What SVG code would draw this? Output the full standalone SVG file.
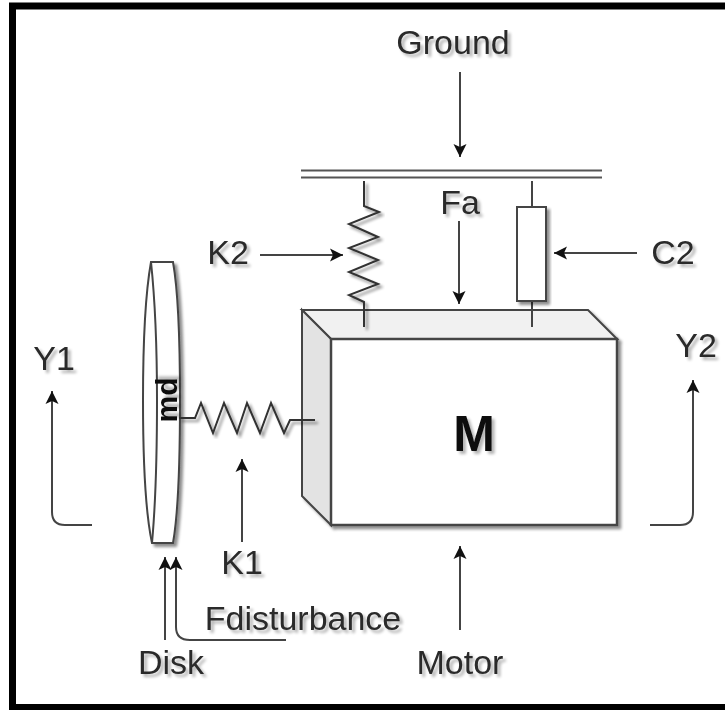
<svg xmlns="http://www.w3.org/2000/svg" width="725" height="710" viewBox="0 0 725 710">
<style>
text{font-family:"Liberation Sans",Arial,sans-serif;font-size:34px;fill:#2a2a2a;filter:url(#ts)}
.l{fill:none;stroke:#444;stroke-width:2}
.k{fill:none;stroke:#333;stroke-width:2}
.s{filter:url(#sh)}
.ar{fill:none;stroke:#444;stroke-width:2;marker-end:url(#a)}
</style>
<defs>
<filter id="sh" x="-20%" y="-20%" width="140%" height="140%"><feGaussianBlur in="SourceAlpha" stdDeviation="1.500"/><feOffset dx="3" dy="3"/><feComponentTransfer><feFuncA type="linear" slope="0.45"/></feComponentTransfer><feMerge><feMergeNode/><feMergeNode in="SourceGraphic"/></feMerge></filter>
<filter id="ts" x="-20%" y="-30%" width="140%" height="160%"><feGaussianBlur in="SourceAlpha" stdDeviation="1.500"/><feOffset dx="3" dy="3"/><feComponentTransfer><feFuncA type="linear" slope="0.3"/></feComponentTransfer><feMerge><feMergeNode/><feMergeNode in="SourceGraphic"/></feMerge></filter>
<marker id="a" markerUnits="userSpaceOnUse" markerWidth="14" markerHeight="14" refX="13" refY="7" orient="auto" viewBox="0 0 14 14"><path d="M0 0.500L13 7L0 13.500L3 7Z" fill="#111"/></marker>
</defs>
<rect x="0" y="0" width="725" height="710" fill="#fff"/>
<rect id="frame" x="12.500" y="6" width="730" height="701.500" fill="none" stroke="#000" stroke-width="7"/>
<g id="ground"><path d="M301 170.500H602M301 177.500H602" fill="none" stroke="#555" stroke-width="2"/></g>
<g id="motor-block" class="s">
<path d="M302 310H588L617 339H331Z" fill="#f1f1f1" stroke="#444" stroke-width="2"/>
<path d="M302 310L331 339V525L302 496Z" fill="#e3e3e3" stroke="#444" stroke-width="2"/>
<rect x="331" y="339" width="286" height="186" fill="#fff" stroke="#444" stroke-width="2.500"/>
<text x="474" y="451" text-anchor="middle" style="font-size:50px;font-weight:bold;fill:#111">M</text>
</g>
<g id="disk" class="s">
<path d="M151 262H173C178 290 180 330 180 400S178 515 173 543H152C146 515 143 470 143 400S146 290 151 262Z" fill="#fff" stroke="#444" stroke-width="2"/>
<path d="M151 262C155 300 157 350 157 400S155 510 152 543" fill="none" stroke="#444" stroke-width="2"/>
<text transform="translate(177 400) rotate(-90)" text-anchor="middle" style="font-size:30px;font-weight:bold;fill:#111">md</text>
</g>
<g id="spring-k1" class="s"><path class="k" d="M179 418H195L201 403L213 433L224 403L237 433L247 403L260 433L271 403L284 433L290 420H315"/></g>
<g id="spring-k2" class="s"><path class="k" d="M364 181V206L379 212L349 224L378 237L349 248L378 260L349 272L378 284L349 295L364 302V327"/></g>
<g id="damper-c2"><path class="l" d="M532 181V207M532 301V327"/><rect class="s" x="517" y="207" width="29" height="94" fill="#fff" stroke="#444" stroke-width="2"/></g>
<g id="connectors">
<path class="ar" d="M460 72V157"/>
<path class="ar" d="M459 221V304"/>
<path class="ar" d="M260 255H343"/>
<path class="ar" d="M637 253H554"/>
<path class="ar" d="M242 542V459"/>
<path class="ar" d="M460 630V546"/>
<path class="ar" d="M165 640V557"/>
<path class="ar" d="M286 640H190Q176 640 176 627V557"/>
<path class="ar" d="M92 525H65Q52 525 52 512V391"/>
<path class="ar" d="M650 525H680Q693 525 693 512V380"/>
</g>
<g id="labels">
<text x="453" y="54" text-anchor="middle">Ground</text>
<text x="460" y="214" text-anchor="middle">Fa</text>
<text x="228" y="264" text-anchor="middle">K2</text>
<text x="673" y="264" text-anchor="middle">C2</text>
<text x="54" y="370" text-anchor="middle">Y1</text>
<text x="696" y="357" text-anchor="middle">Y2</text>
<text x="242" y="574" text-anchor="middle">K1</text>
<text x="303" y="630" text-anchor="middle">Fdisturbance</text>
<text x="171" y="674" text-anchor="middle">Disk</text>
<text x="460" y="674" text-anchor="middle">Motor</text>
</g>
</svg>
